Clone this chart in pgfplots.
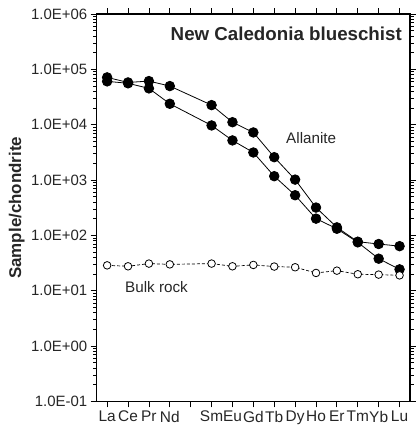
\documentclass[border=0pt]{standalone}
\usepackage{pgfplots}
\pgfplotsset{compat=1.18}
\usepackage{pgfplotstable}
\usepackage{fontspec}
\setmainfont{Liberation Sans}

% Chondrite-normalised REE; x = position in the REE series (Pm = 5 left empty)
\pgfplotstableread{
x  A       B
1  71600   60700
2  58000   56000
3  61400   45300
4  49900   23900
6  22600   9700
7  11100   5200
8  7250    3150
9  2590    1175
10 1020    532
11 319     201
12 140     132
13 77      75
14 70      38
15 64      24.4
}\allanite

\pgfplotstableread{
x  bulk
1  28.8
2  27.7
3  31
4  30
6  31
7  27.7
8  29.3
9  27.4
10 26.6
11 21
12 23.1
13 19.9
14 19.6
15 19
}\bulkrock

\begin{document}
\begin{tikzpicture}
\useasboundingbox (0,0) rectangle (416bp,428bp);
\begin{axis}[
  at={(96.7bp,26.5bp)}, anchor=south west,
  scale only axis, width=313.3bp, height=387.5bp,
  ymode=log, ymin=0.1, ymax=1e6,
  xmin=0.5, xmax=15.5,
  xtick={1,...,15},
  xticklabels={La,Ce,Pr,Nd,,Sm,Eu,Gd,Tb,Dy,Ho,Er,Tm,Yb,Lu},
  ytick={0.1,1,10,100,1000,10000,100000,1000000},
  yticklabels={1.0E-01,1.0E+00,1.0E+01,1.0E+02,1.0E+03,1.0E+04,1.0E+05,1.0E+06},
  tick align=outside,
  xtick pos=both, ytick pos=both,
  major tick length=6bp, minor tick length=3.5bp,
  axis line style={black, line width=1.1bp},
  tick style={black, line width=0.8bp},
  tick label style={font=\fontsize{15}{17}\selectfont, text=black!85},
  xticklabel style={font=\fontsize{15.5}{17}\selectfont, inner xsep=0pt},
  ylabel={Sample/chondrite},
  every axis y label/.style={at={(axis description cs:-0.255,0.5)}, rotate=90, anchor=center,
    font=\bfseries\fontsize{17}{19}\selectfont, text=black!85},
  clip=false,
]
\addplot[black, line width=0.8bp, mark=*, mark size=4.8bp, mark options={fill=black}]
  table[x=x, y=A] {\allanite};
\addplot[black, line width=0.8bp, mark=*, mark size=4.8bp, mark options={fill=black}]
  table[x=x, y=B] {\allanite};
\addplot[black, line width=0.7bp, dash pattern=on 3bp off 2bp, mark=*, mark size=3.8bp,
  mark options={solid, fill=white, line width=0.8bp}]
  table[x=x, y=bulk] {\bulkrock};

\node[anchor=north east, inner sep=0pt, xshift=-8bp, yshift=-12.7bp,
  font=\bfseries\fontsize{18.8}{21}\selectfont, text=black!85]
  at (rel axis cs:1,1) {New Caledonia blueschist};
\node[anchor=center, inner sep=0pt, font=\fontsize{15.3}{17}\selectfont, text=black!85]
  at (axis cs:10.77,5700) {Allanite};
\node[anchor=center, inner sep=0pt, font=\fontsize{15.3}{17}\selectfont, text=black!85]
  at (axis cs:3.365,11.7) {Bulk rock};
\end{axis}
\end{tikzpicture}
\end{document}
